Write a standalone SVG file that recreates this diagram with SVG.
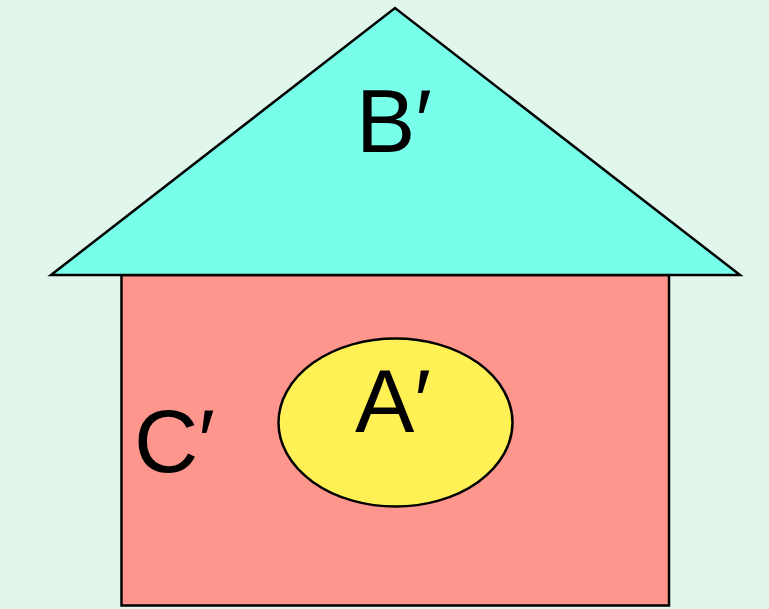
<svg xmlns="http://www.w3.org/2000/svg" width="769" height="609" viewBox="0 0 769 609">
<style>
.s{stroke:#000;stroke-width:2.5;stroke-linejoin:miter}
.t{font-family:"Liberation Sans",Arial,sans-serif;font-size:89px;fill:#000}
</style>
<rect width="769" height="609" fill="#E1F7EC"/>
<g id="C">
<rect class="s" x="121.5" y="275" width="547.5" height="330.5" fill="#FF968D"/>
<text class="t" x="134" y="472">C′</text>
</g>
<g id="B">
<polygon class="s" points="51,275 395,8 740,275" fill="#77FFEA"/>
<text class="t" x="356" y="152">B′</text>
</g>
<g id="A">
<ellipse class="s" cx="395.5" cy="422.5" rx="117" ry="84" fill="#FFF155"/>
<text class="t" x="355" y="432">A′</text>
</g>
<g id="connectors"/>
</svg>
